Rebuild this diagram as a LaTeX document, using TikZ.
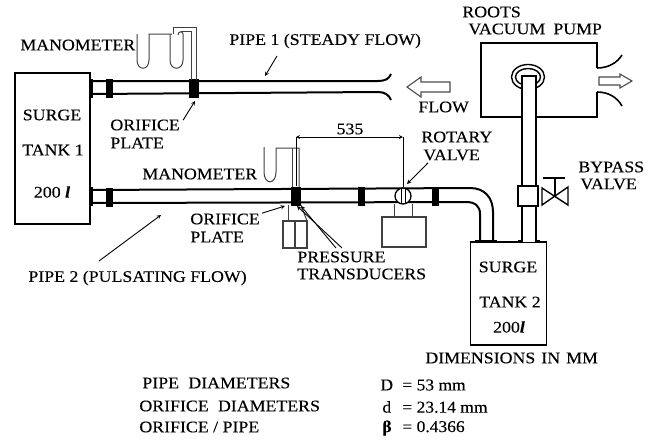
\documentclass[tikz,border=0pt]{standalone}
\usepackage{fontspec}
\setmainfont[FakeStretch=1.1,FakeBold=0.2]{Liberation Serif}
\newfontfamily\valuefont[FakeStretch=1.06,FakeBold=0.2]{Liberation Serif}

\begin{document}
\begin{tikzpicture}[x=1pt, y=-1pt, thick]
    \tikzstyle{lbl} = [anchor=west, inner sep=0pt, font=\fontsize{16.2}{18}\selectfont]
    \tikzstyle{val} = [anchor=west, inner sep=0pt, font=\valuefont\fontsize{16.5}{18}\selectfont]
    \tikzstyle{tank} = [rectangle, draw, line width=1.6pt, inner sep=0pt]
    \tikzstyle{flange} = [rectangle, fill=black, inner sep=0pt, minimum width=7pt, minimum height=19pt]
    \tikzstyle{pipe} = [line width=2pt]
    \tikzstyle{tube} = [line width=1pt, draw=black!75]
    \tikzstyle{box} = [rectangle, draw=black!75, line width=1.1pt, fill=white, inner sep=0pt]
    \tikzstyle{seat} = [rectangle, fill=black, inner sep=0pt, minimum width=22pt, minimum height=3pt]
    \tikzstyle{leader} = [->, >=stealth, line width=0.9pt]
    \tikzstyle{flowarrow} = [draw=black!70, line width=1.1pt, fill=white]
    \useasboundingbox (0,0) rectangle (657,440);

    % tanks
    \node[tank, minimum width=75pt, minimum height=151pt] (tankone) at (52.5,148.5) {};
    \node[tank, minimum width=76pt, minimum height=103pt] (tanktwo) at (508.5,293.5) {};
    \node[lbl, anchor=center] (surgeone) at (52,115) {SURGE};
    \node[lbl, anchor=center] (labelone) at (53,150) {TANK 1};
    \node[lbl, anchor=center] (volone) at (52,192) {200 {\bfseries\itshape l}};
    \node[lbl, anchor=center] (surgetwo) at (508,267) {SURGE};
    \node[lbl, anchor=center] (labeltwo) at (510,302) {TANK 2};
    \node[lbl, anchor=center] (voltwo) at (509,327) {200{\bfseries\itshape l}};

    % pipe 1
    \draw[pipe] (tankone.east |- 0,81) -- (378,81) .. controls (385,81) and (389,79) .. (391,74);
    \draw[pipe] (tankone.east |- 0,94) -- (378,92) .. controls (385,92) and (389,95) .. (391,100);
    \node[flange, minimum width=4pt] (stubone) at (91,88) {};
    \node[flange] (flangeone) at (109.5,88) {};
    \node[flange, minimum width=10pt] (orificeone) at (194,88) {};

    % pipe 2
    \draw[pipe] (tankone.east |- 0,190) -- (470,188) .. controls (485,188) and (493,198) .. (493,212) -- (493,242);
    \draw[pipe] (tankone.east |- 0,203) -- (466,202) .. controls (475,202) and (480,206) .. (480,214) -- (480,242);
    \node[flange, minimum width=4pt] (stubtwo) at (91,196.5) {};
    \node[flange] (flangetwo) at (109.5,197) {};
    \node[flange, minimum width=10pt] (orificetwo) at (296,196) {};
    \node[flange] (flangethree) at (361,196) {};
    \node[flange] (flangefour) at (435.5,196) {};
    \node[seat] (seatone) at (486,241) {};
    \node[seat] (seattwo) at (529,241) {};

    % pump
    \draw[line width=1.6pt] (597,68) -- (597,43) -- (481,43) -- (481,117) -- (597,117) -- (597,92);
    \draw[line width=1.6pt] (597,68) .. controls (608,68) and (617,63) .. (622,55);
    \draw[line width=1.6pt] (597,92) .. controls (608,92) and (617,97) .. (622,106);
    \draw[line width=1.4pt] (528,77) ellipse [x radius=16.5, y radius=12.5];
    \draw[line width=1.4pt] (528,77) ellipse [x radius=12.5, y radius=8.5];
    \draw[pipe, fill=white] (522,242) -- (522,76) -- (536,76) -- (536,242);

    % bypass valve
    \node[box, draw=black, line width=1.4pt, minimum width=20pt, minimum height=20pt] (bypass) at (528,196) {};
    \draw[line width=1.4pt] (542,188) -- (542,205) -- (568,187) -- (568,205) -- cycle;
    \draw[line width=1.4pt] (555,197) -- (555,178);
    \draw[line width=1.4pt] (543,178) -- (565,178);

    % manometers
    \draw[tube] (137,34) -- (137,60) .. controls (137,71) and (149,71) .. (149,60) -- (149,34) -- (172,34);
    \draw[tube] (170,34) -- (170,60) .. controls (170,71) and (183,71) .. (183,60) -- (183,34) .. controls (183,31) and (178,31) .. (178,35);
    \draw[tube] (173,34) -- (173,27) -- (196,27) -- (196,80);
    \draw[tube] (181,31) -- (191,31) -- (191,80);
    \draw[tube] (264,147) -- (264,172) .. controls (264,185) and (276,185) .. (276,172) -- (276,148) -- (299,148) -- (299,187);
    \draw[tube] (292,148) -- (292,187);

    % transducers
    \node[box, minimum width=12pt, minimum height=27pt] (transone) at (289,234.5) {};
    \node[box, minimum width=12pt, minimum height=27pt] (transtwo) at (301,234.5) {};
    \draw[tube] (288,205) -- (transone.north -| 288,0);
    \draw[tube] (301,205) -- (307,221);

    % rotary valve
    \node[box, minimum width=44pt, minimum height=30pt] (rotarybox) at (404,232) {};
    \draw[tube] (394,204) -- (rotarybox.north -| 394,0);
    \draw[tube] (412,204) -- (rotarybox.north -| 412,0);
    \node[circle, draw, line width=1.3pt, fill=white, inner sep=0pt, minimum size=16pt] (rotary) at (403,196) {};
    \draw[line width=1pt] (401,188) -- (401,204);
    \draw[line width=1pt] (405,188) -- (405,204);

    % dimension
    \coordinate (dimleft) at (296,137);
    \coordinate (dimright) at (403,137);
    \draw[line width=0.8pt] (dimleft) -- (orificetwo.north -| dimleft);
    \draw[line width=0.8pt] (dimright) -- (rotary.north);
    \draw[<->, >=stealth, line width=0.8pt] (dimleft) -- (dimright);
    \node[lbl, anchor=center] (dimlabel) at (350,129) {535};

    % flow arrows
    \draw[flowarrow] (407,87) -- (421,77) -- (421,82) -- (450,82) -- (450,92) -- (421,92) -- (421,97) -- cycle;
    \draw[flowarrow] (632,81) -- (620,74) -- (620,77) -- (599,77) -- (599,85) -- (620,85) -- (620,88) -- cycle;

    % labels
    \node[lbl] (manoone) at (20,45) {MANOMETER};
    \node[lbl] (pipeone) at (229,41) {PIPE 1 (STEADY FLOW)};
    \node[lbl] (orifone) at (110,125) {ORIFICE};
    \node[lbl] (plateone) at (110,143) {PLATE};
    \node[lbl] (roots) at (462,12) {ROOTS};
    \node[lbl] (vacuum) at (468,29) {VACUUM\hspace{0.5em}PUMP};
    \node[lbl] (flow) at (418,107) {FLOW};
    \node[lbl] (rotaryone) at (421,137) {ROTARY};
    \node[lbl] (rotarytwo) at (423,155) {VALVE};
    \node[lbl] (bypassone) at (578,167) {BYPASS};
    \node[lbl] (bypasstwo) at (580,184) {VALVE};
    \node[lbl] (manotwo) at (142,174) {MANOMETER};
    \node[lbl] (oriftwo) at (190,219) {ORIFICE};
    \node[lbl] (platetwo) at (190,237) {PLATE};
    \node[lbl] (pressure) at (297,257) {PRESSURE};
    \node[lbl] (transducers) at (297,274) {TRANSDUCERS};
    \node[lbl] (pipetwo) at (28,278) {PIPE 2 (PULSATING FLOW)};
    \node[lbl] (dims) at (425,358) {DIMENSIONS\hspace{0.1em} IN\hspace{0.1em} MM};
    \node[lbl] (rowone) at (142,383) {PIPE\hspace{0.3em} DIAMETERS};
    \node[lbl] (rowtwo) at (139,406) {ORIFICE\hspace{0.3em} DIAMETERS};
    \node[lbl] (rowthree) at (139,427) {ORIFICE / PIPE};
    \node[val] (valone) at (380,385) {\makebox[22pt][l]{D}= 53 mm};
    \node[val] (valtwo) at (382,407) {\makebox[20pt][l]{d}= 23.14 mm};
    \node[val] (valthree) at (382,428) {\makebox[20pt][l]{\textbf{β}}= 0.4366};

    % leaders
    \coordinate (pipeonetip) at (265,76);
    \coordinate (orifonetip) at (195,101);
    \coordinate (rotarytip) at (407,184);
    \coordinate (pipetwotip) at (161,215);
    \coordinate (oriftwotip) at (285,206);
    \coordinate (presstipa) at (297,206);
    \coordinate (presstipb) at (301,206);
    \draw[leader] (277,56) -- (pipeonetip);
    \draw[leader] (orifone.north east) ++(3,1) -- (orifonetip);
    \draw[leader] (rotarytwo.south west) ++(5,2) -- (rotarytip);
    \draw[leader] (99,261) -- (pipetwotip);
    \draw[leader] (oriftwo.north east) ++(2,0) -- (oriftwotip);
    \draw[leader] (342,248) -- (presstipa);
    \draw[leader] (336,248) -- (presstipb);
\end{tikzpicture}
\end{document}
